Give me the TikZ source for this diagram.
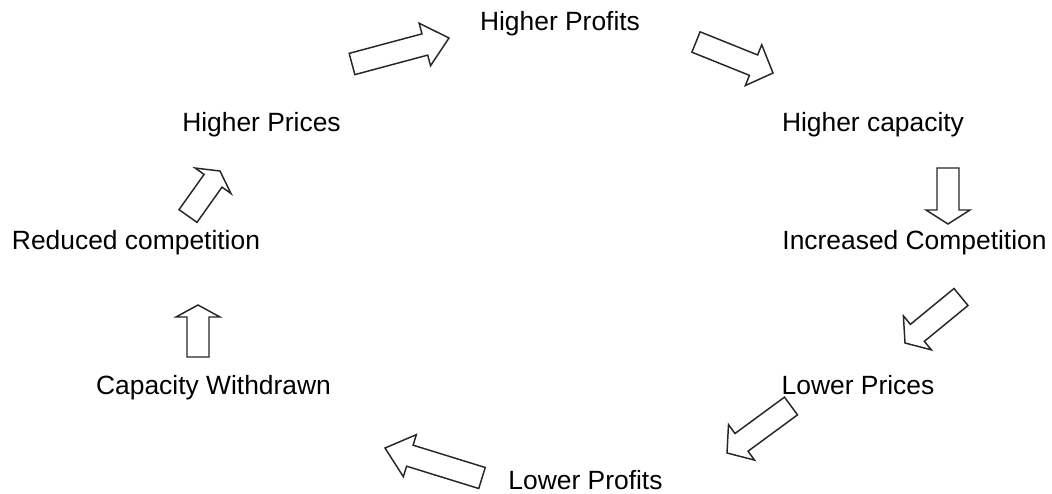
\documentclass[tikz,border=0pt]{standalone}
\usepackage{fontspec}
\setmainfont{Liberation Sans}
\usetikzlibrary{calc}

\tikzset{every picture/.style={line width=0.75pt}}
\tikzset{
  lbl/.style={font=\fontsize{19.8}{23}\selectfont, inner sep=0pt, anchor=base},
  fatarrow/.style={draw=black!85, line width=1.1pt, line join=miter, fill=white,
    to path={($(\tikztostart)!8.25pt!90:(\tikztotarget)$)
      -- ($(\tikztotarget)!#1!(\tikztostart)!8.25pt!-90:(\tikztostart)$)
      -- ($(\tikztotarget)!#1!(\tikztostart)!16.5pt!-90:(\tikztostart)$)
      -- (\tikztotarget)
      -- ($(\tikztotarget)!#1!(\tikztostart)!16.5pt!90:(\tikztostart)$)
      -- ($(\tikztotarget)!#1!(\tikztostart)!8.25pt!90:(\tikztostart)$)
      -- ($(\tikztostart)!8.25pt!-90:(\tikztotarget)$) -- cycle}}
}

\begin{document}
\begin{tikzpicture}[x=0.75pt,y=0.75pt,yscale=-1,xscale=1]
	\useasboundingbox (0,0) rectangle (1052,493);

	% Text Node
	\node[lbl] (hprof) at (560,30) {Higher Profits};
	% Text Node
	\node[lbl] (hcap) at (873,131) {Higher capacity};
	% Text Node
	\node[lbl] (icomp) at (914.5,249) {Increased Competition};
	% Text Node
	\node[lbl] (lpr) at (858,394) {Lower Prices};
	% Text Node
	\node[lbl] (lprof) at (585.5,489) {Lower Profits};
	% Text Node
	\node[lbl] (cw) at (213.5,394) {Capacity Withdrawn};
	% Text Node
	\node[lbl] (rc) at (136,249) {Reduced competition};
	% Text Node
	\node[lbl] (hpr) at (261.5,131) {Higher Prices};

	% arrow ends
	\coordinate (a1s) at (352,64);  \coordinate (a1e) at (449,38);
	\coordinate (a2s) at (696,42);  \coordinate (a2e) at (773,73);
	\coordinate (a3s) at (948,168); \coordinate (a3e) at (948,224);
	\coordinate (a4s) at (961,297); \coordinate (a4e) at (905,343);
	\coordinate (a5s) at (791,406); \coordinate (a5e) at (727,453);
	\coordinate (a6s) at (482,478); \coordinate (a6e) at (385,448);
	\coordinate (a7s) at (198,357); \coordinate (a7e) at (198,305);
	\coordinate (a8s) at (188,216); \coordinate (a8e) at (220,171);

	% Block arrows
	\draw[fatarrow=18.75pt] (a1s) to (a1e);
	\draw[fatarrow=15.75pt] (a2s) to (a2e);
	\draw[fatarrow=10.5pt] (a3s) to (a3e);
	\draw[fatarrow=12pt] (a4s) to (a4e);
	\draw[fatarrow=13.5pt] (a5s) to (a5e);
	\draw[fatarrow=19.5pt] (a6s) to (a6e);
	\draw[fatarrow=9pt] (a7s) to (a7e);
	\draw[fatarrow=9pt] (a8s) to (a8e);

\end{tikzpicture}
\end{document}
